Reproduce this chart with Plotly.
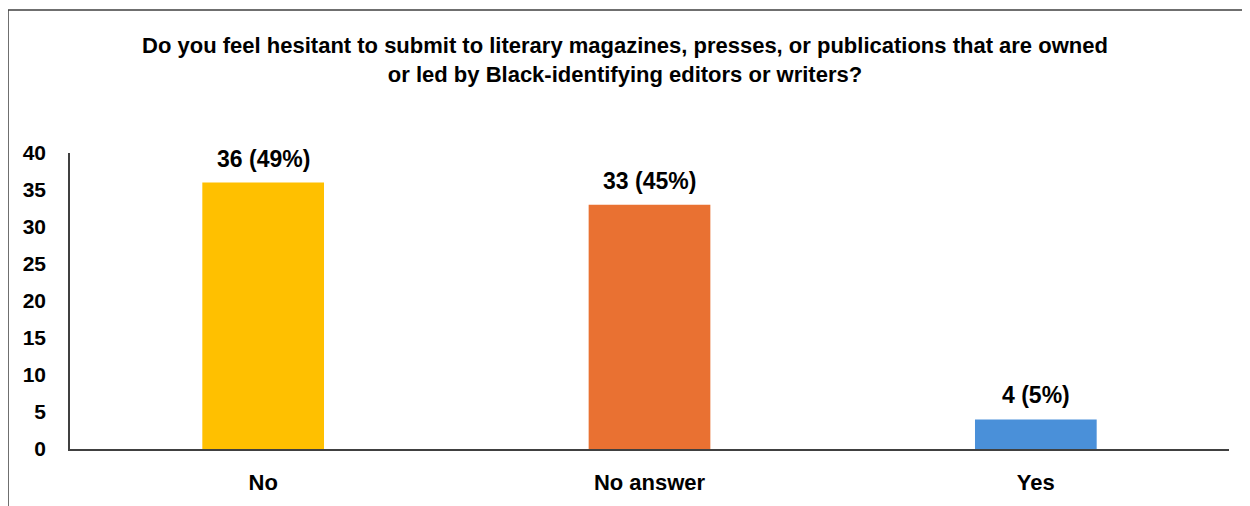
import plotly.graph_objects as go

categories = ["No", "No answer", "Yes"]
counts = [36, 33, 4]
percents = [49, 45, 5]
colors = ["#FFC000", "#E97132", "#4A90D9"]
y_ticks = [0, 5, 10, 15, 20, 25, 30, 35, 40]

title = ("Do you feel hesitant to submit to literary magazines, presses, or publications that are owned"
         "<br>or led by Black-identifying editors or writers?")

labels = [f"{c} ({p}%)" for c, p in zip(counts, percents)]

FONT = "Liberation Sans, Arial, sans-serif"

fig = go.Figure(go.Bar(
    x=categories, y=counts, marker_color=colors, marker_line_width=0,
    hoverinfo="skip",
))

for cat, val, lab in zip(categories, counts, labels):
    fig.add_annotation(x=cat, y=val, text="<b>" + lab + "</b>", showarrow=False,
                       yanchor="middle", yshift=24,
                       font=dict(family=FONT, size=23, color="#000000"))

fig.update_layout(
    width=1250, height=506,
    margin=dict(l=62, r=29, t=145, b=65),
    paper_bgcolor="white", plot_bgcolor="white",
    bargap=0.685,
    showlegend=False,
    font=dict(family=FONT, color="#000000"),
    title=dict(text="<b>" + title + "</b>", x=0.4936, xanchor="center", y=0.911, yanchor="middle",
               font=dict(family=FONT, size=22, color="#000000")),
)

fig.update_xaxes(
    showline=True, linecolor="#404040", linewidth=2, showgrid=False, ticks="",
    tickfont=dict(family=FONT, size=22, color="#000000"),
    tickprefix="<b>", ticksuffix="</b>", ticklabelstandoff=13,
)
fig.update_yaxes(
    range=[0, 40], tickvals=y_ticks, ticktext=[f"<b>{t}</b>" for t in y_ticks],
    showline=True, linecolor="#404040", linewidth=1.5,
    showgrid=False, zeroline=False, ticks="",
    tickfont=dict(family=FONT, size=21, color="#000000"),
    ticklabelstandoff=18,
)

# outer chart border (top and left edges visible)
fig.add_shape(type="rect", xref="paper", yref="paper",
              x0=-62 / 1159, x1=1.2, y0=-0.5, y1=1 + 143 / 296,
              line=dict(color="#404040", width=1.5), fillcolor="rgba(0,0,0,0)")

fig.write_html("out.html")
